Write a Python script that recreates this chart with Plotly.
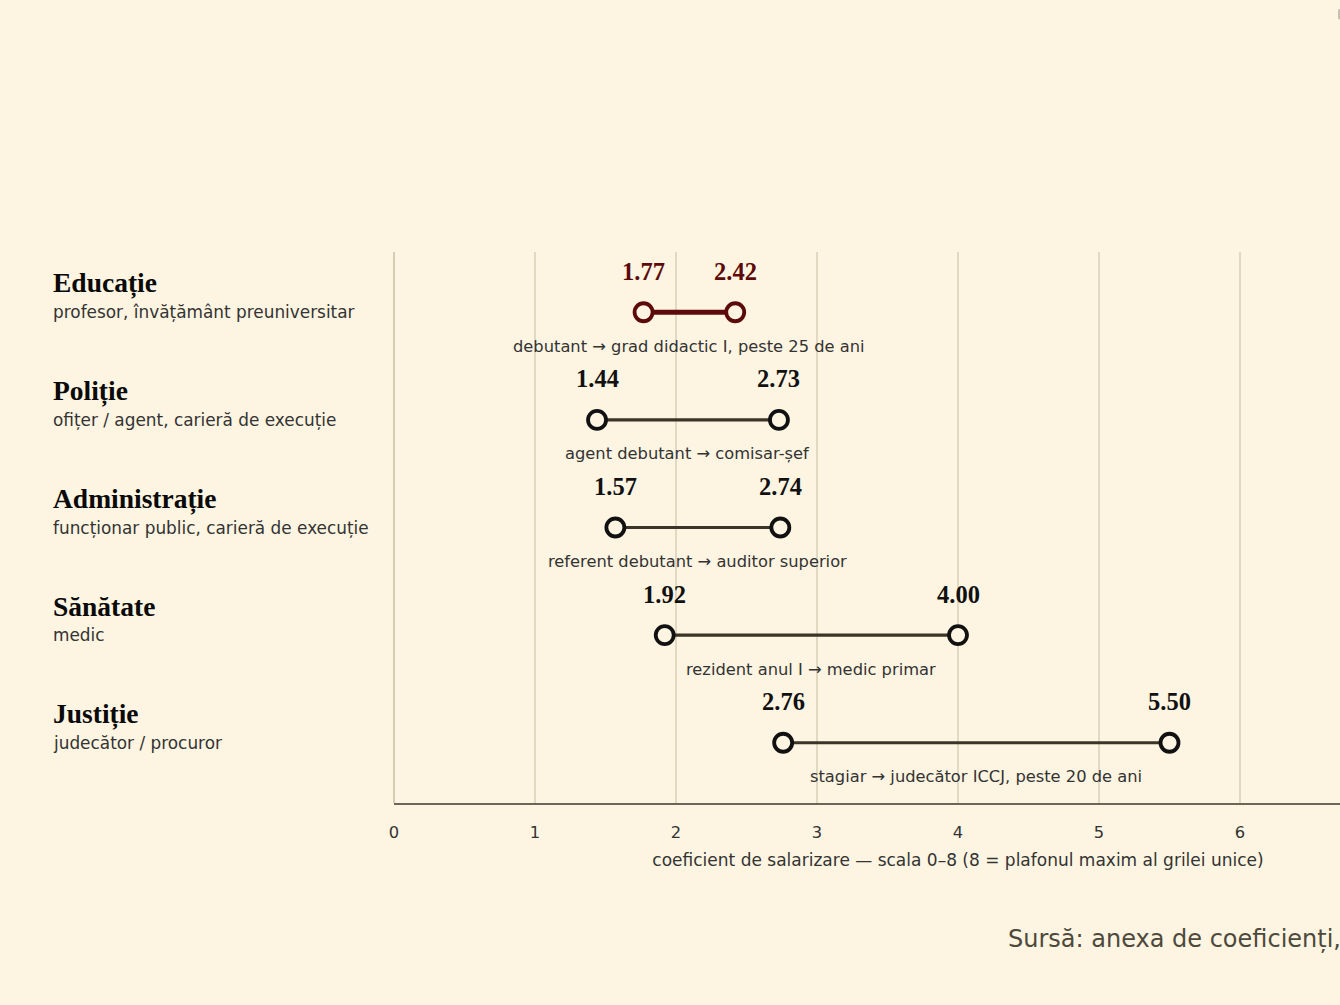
import plotly.graph_objects as go

# date
sectoare = ["Educație", "Poliție", "Administrație", "Sănătate", "Justiție"]
descrieri = [
    "profesor, învățământ preuniversitar",
    "ofițer / agent, carieră de execuție",
    "funcționar public, carieră de execuție",
    "medic",
    "judecător / procuror",
]
coef_min = [1.77, 1.44, 1.57, 1.92, 2.76]
coef_max = [2.42, 2.73, 2.74, 4.00, 5.50]
trasee = [
    "debutant → grad didactic I, peste 25 de ani",
    "agent debutant → comisar-șef",
    "referent debutant → auditor superior",
    "rezident anul I → medic primar",
    "stagiar → judecător ICCJ, peste 20 de ani",
]
evidentiat = "Educație"

BG = "#fdf5e1"
DARK = "#3b3428"
RED = "#5c0a0a"
SERIF = "Liberation Serif, Times New Roman, serif"
SANS = "DejaVu Sans, sans-serif"

W, H = 1600, 1005
ML, MR, MT, MB = 394, 78, 252, 202
plot_w = W - ML - MR

fig = go.Figure()

for i, (s, a, b) in enumerate(zip(sectoare, coef_min, coef_max)):
    col = RED if s == evidentiat else DARK
    edge = RED if s == evidentiat else "#111111"
    fig.add_trace(go.Scatter(
        x=[a, b], y=[i, i], mode="lines+markers",
        line=dict(color=col, width=5 if s == evidentiat else 3.2),
        marker=dict(size=18, color=BG, line=dict(color=edge, width=3.8)),
        hoverinfo="x", showlegend=False,
    ))
    for v in (a, b):
        fig.add_annotation(x=v, y=i, text=f"<b>{v:.2f}</b>", showarrow=False,
                           yshift=41, font=dict(family=SERIF, size=24.5,
                                                color=RED if s == evidentiat else "#111111"))
    fig.add_annotation(x=(a + b) / 2, y=i, text=trasee[i], showarrow=False,
                       yshift=-34, font=dict(family=SANS, size=16.3, color="#333333"))
    fig.add_annotation(xref="paper", x=(51 - ML) / plot_w, y=i, text=f"<b>{s}</b>",
                       xanchor="left", showarrow=False, yshift=29,
                       font=dict(family=SERIF, size=27.5, color="#0a0a0a"))
    fig.add_annotation(xref="paper", x=(51 - ML) / plot_w, y=i, text=descrieri[i],
                       xanchor="left", showarrow=False,
                       font=dict(family=SANS, size=16.9, color="#333333"))

fig.add_annotation(xref="paper", yref="paper", x=(1006 - ML) / plot_w, y=-0.246,
                   xanchor="left", yanchor="middle", showarrow=False,
                   text="Sursă: anexa de coeficienți, Legea-cadru nr. 153/2017",
                   font=dict(family=SANS, size=24, color="#4d493d"))

fig.update_layout(
    width=W, height=H,
    margin=dict(l=ML, r=MR, t=MT, b=MB),
    paper_bgcolor=BG, plot_bgcolor=BG,
    xaxis=dict(range=[0, 8], dtick=1, showgrid=True, gridcolor="#e2d9c2", gridwidth=1.5,
               zeroline=True, zerolinecolor="#d6ccb4", zerolinewidth=1.5,
               showline=True, linecolor="#6b655a", linewidth=2,
               ticks="", ticklabelstandoff=13,
               tickfont=dict(family=SANS, size=16.3, color="#333333"),
               title=dict(text="coeficient de salarizare — scala 0–8 (8 = plafonul maxim al grilei unice)",
                          font=dict(family=SANS, size=17, color="#333333"), standoff=14)),
    yaxis=dict(range=[4.56, -0.56], showgrid=False, zeroline=False, showticklabels=False),
)

fig.write_html("out.html",
               post_script="document.body.style.margin='0';document.body.style.background='%s';" % BG)
